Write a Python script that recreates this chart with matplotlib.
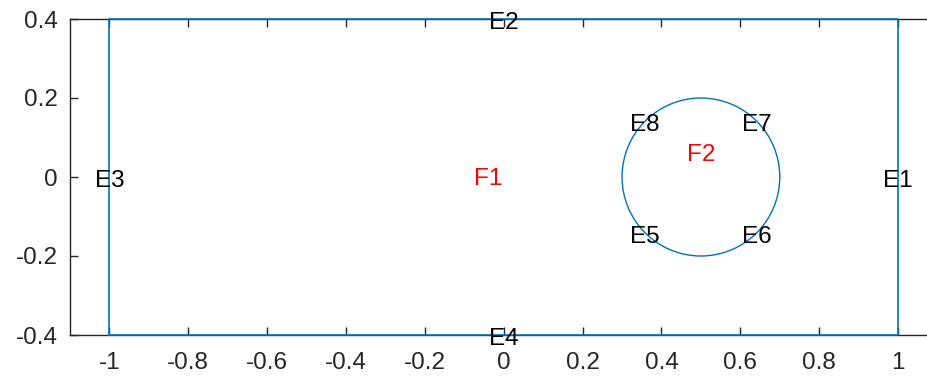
import matplotlib
matplotlib.use("Agg")
import matplotlib.pyplot as plt
from matplotlib.patches import Circle

plt.rcParams['font.family'] = ['Liberation Sans', 'DejaVu Sans']

# geometry: rectangle edges and circle
rect_x = [-1, 1, 1, -1, -1]
rect_y = [-0.4, -0.4, 0.4, 0.4, -0.4]
circ_center = (0.5, 0.0)
circ_radius = 0.2

# edge labels
edge_labels = ["E1", "E2", "E3", "E4", "E5", "E6", "E7", "E8"]
edge_x = [1.0, 0.0, -1.0, 0.0, 0.3586, 0.6414, 0.6414, 0.3586]
edge_y = [0.0, 0.4, 0.0, -0.4, -0.1414, -0.1414, 0.1414, 0.1414]

# face labels
face_labels = ["F1", "F2"]
face_x = [-0.04, 0.5]
face_y = [0.0, 0.06]

xticks = [-1, -0.8, -0.6, -0.4, -0.2, 0, 0.2, 0.4, 0.6, 0.8, 1]
yticks = [-0.4, -0.2, 0, 0.2, 0.4]

blue = "#0072BD"
dark = "#262626"

fig = plt.figure(figsize=(9.27, 3.81), dpi=100)
ax = fig.add_axes([70 / 927, 46 / 381, 867.5 / 927, 316 / 381])

ax.plot(rect_x, rect_y, color=blue, lw=1.2, clip_on=False, zorder=3)
ax.add_patch(Circle(circ_center, circ_radius, fill=False, edgecolor=blue, lw=1.0))

for lab, x, y in zip(edge_labels, edge_x, edge_y):
    ax.annotate(lab, (x, y), xytext=(0, -4), textcoords="offset pixels",
                ha="center", va="center", fontsize=17.5, color="black", zorder=4,
                annotation_clip=False)
for lab, x, y in zip(face_labels, face_x, face_y):
    ax.annotate(lab, (x, y), xytext=(0, -2), textcoords="offset pixels",
                ha="center", va="center", fontsize=17.5, color="red", zorder=4)

ax.set_xlim(-1.1, 1.1)
ax.set_ylim(-0.4, 0.4)
ax.set_xticks(xticks)
ax.set_xticklabels([f"{t:g}" for t in xticks])
ax.set_yticks(yticks)
ax.set_yticklabels([f"{t:g}" for t in yticks])
ax.tick_params(direction="in", top=True, right=True, length=5.5, width=1,
               color=dark, labelsize=17.5, labelcolor=dark)
ax.tick_params(axis="x", pad=12)
ax.tick_params(axis="y", pad=9)
for s in ax.spines.values():
    s.set_color(dark)
    s.set_linewidth(1)

fig.savefig("out.png", dpi=100)
